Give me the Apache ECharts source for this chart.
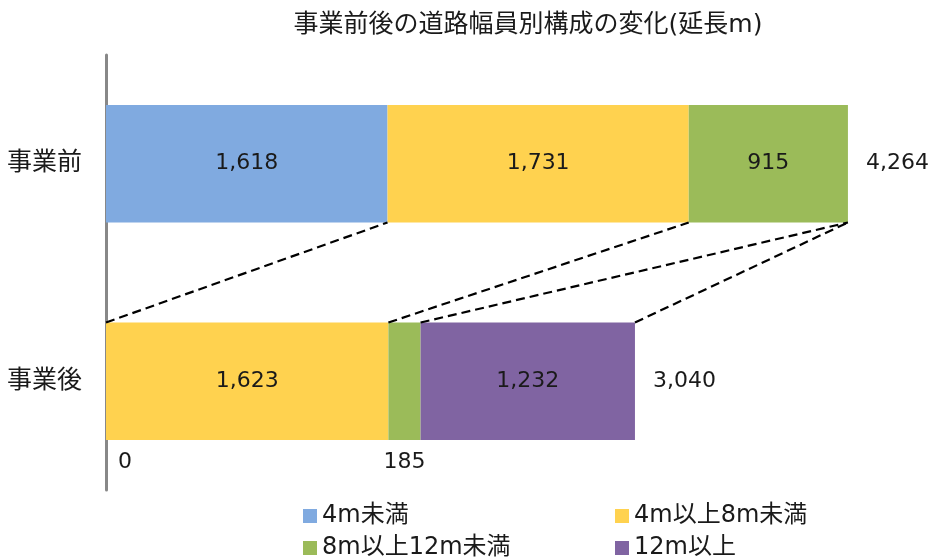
<!DOCTYPE html>
<html>
<head>
<meta charset="utf-8">
<script src="https://cdn.jsdelivr.net/npm/echarts@6/dist/echarts.min.js"></script>
<style>
  html, body { margin: 0; padding: 0; background: #fff; }
  #chart { width: 939px; height: 560px; }
</style>
</head>
<body>
<div id="chart"></div>
<script>
// Road length (m) by road width class, before and after the project
const categories = ['事業前', '事業後'];
const seriesNames = ['4m未満', '4m以上8m未満', '8m以上12m未満', '12m以上'];
const under4 = [1618, 0];
const from4to8 = [1731, 1623];
const from8to12 = [915, 185];
const over12 = [0, 1232];
const colors = ['#80AAE0', '#FFD24F', '#9BBB59', '#8064A2'];

const seriesValues = [under4, from4to8, from8to12, over12];
const totals = categories.map((_, i) => seriesValues.reduce((s, arr) => s + arr[i], 0));

// cumulative end of each class, per bar
const cumEnds = categories.map((_, i) => {
  let acc = 0;
  return seriesValues.map(arr => (acc += arr[i]));
});
// dashed connectors: end of each class in the lower bar -> same class end in the upper bar
const links = seriesValues.map((_, k) => [cumEnds[1][k], 1, cumEnds[0][k]]);

const fmt = v => Number(v).toLocaleString('en-US');
const FONT = '"DejaVu Sans", "Noto Sans CJK JP", sans-serif';
const BAR_FRAC = 0.54;
const TEXT = '#1a1a1a';

const barSeries = seriesNames.map((name, k) => ({
  name,
  type: 'bar',
  stack: 'total',
  barWidth: (BAR_FRAC * 100) + '%',
  itemStyle: { color: colors[k] },
  data: seriesValues[k].map((v, i) => {
    let label;
    if (v === 0 && i === 0) {
      label = { show: false };
    } else if (i === 1 && v < 300) {
      label = { show: true, position: 'bottom', distance: 11, offset: v === 0 ? [19, 0] : [0, 0] };
    } else {
      label = { show: true, position: 'inside' };
    }
    return { value: v, label };
  }),
  label: {
    formatter: p => fmt(p.value),
    color: TEXT,
    fontSize: 22,
    fontFamily: FONT
  }
}));

// zero-width bar at the end of each stack carries the total
barSeries.push({
  name: 'total',
  type: 'bar',
  stack: 'total',
  barWidth: (BAR_FRAC * 100) + '%',
  itemStyle: { color: 'transparent' },
  data: categories.map(() => 0),
  label: {
    show: true,
    position: 'right',
    distance: 18,
    formatter: p => fmt(totals[p.dataIndex]),
    color: TEXT,
    fontSize: 22,
    fontFamily: FONT
  }
});

const linkSeries = {
  type: 'custom',
  encode: { x: [0, 2], y: 1 },
  data: links,
  z: 5,
  silent: true,
  renderItem: (params, api) => {
    const band = api.size([0, 1])[1];
    const half = band * BAR_FRAC / 2;
    const pb = api.coord([api.value(0), 1]);
    const pt = api.coord([api.value(2), 0]);
    return {
      type: 'line',
      shape: { x1: pb[0], y1: pb[1] - half, x2: pt[0], y2: pt[1] + half },
      style: { stroke: '#000', lineWidth: 2.2, lineDash: [9, 5] }
    };
  }
};

// one legend block per entry, laid out as a 2 x 2 grid
const legendSlots = [[298, 499], [610, 499], [298, 531], [610, 531]];
const legends = seriesNames.map((name, k) => ({
  left: legendSlots[k][0],
  top: legendSlots[k][1],
  itemWidth: 14,
  itemHeight: 14,
  icon: 'rect',
  data: [name],
  textStyle: { fontSize: 24, color: TEXT, fontFamily: FONT }
}));

const chart = echarts.init(document.getElementById('chart'));
chart.setOption({
  animation: false,
  textStyle: { fontFamily: FONT },
  title: {
    text: '事業前後の道路幅員別構成の変化(延長m)',
    left: 523,
    top: 8,
    textAlign: 'center',
    textStyle: { fontSize: 25, fontWeight: 'normal', color: TEXT, fontFamily: FONT }
  },
  legend: legends,
  grid: { left: 106, right: 50, top: 55, bottom: 70, containLabel: false },
  xAxis: {
    type: 'value',
    min: 0,
    max: 4500,
    show: false,
    splitLine: { show: false }
  },
  yAxis: {
    type: 'category',
    data: categories,
    inverse: true,
    axisLine: { show: true, lineStyle: { color: '#888', width: 3 } },
    axisTick: { show: false },
    axisLabel: { fontSize: 25, color: TEXT, margin: 24, fontFamily: FONT }
  },
  series: [...barSeries, linkSeries]
});
</script>
</body>
</html>
